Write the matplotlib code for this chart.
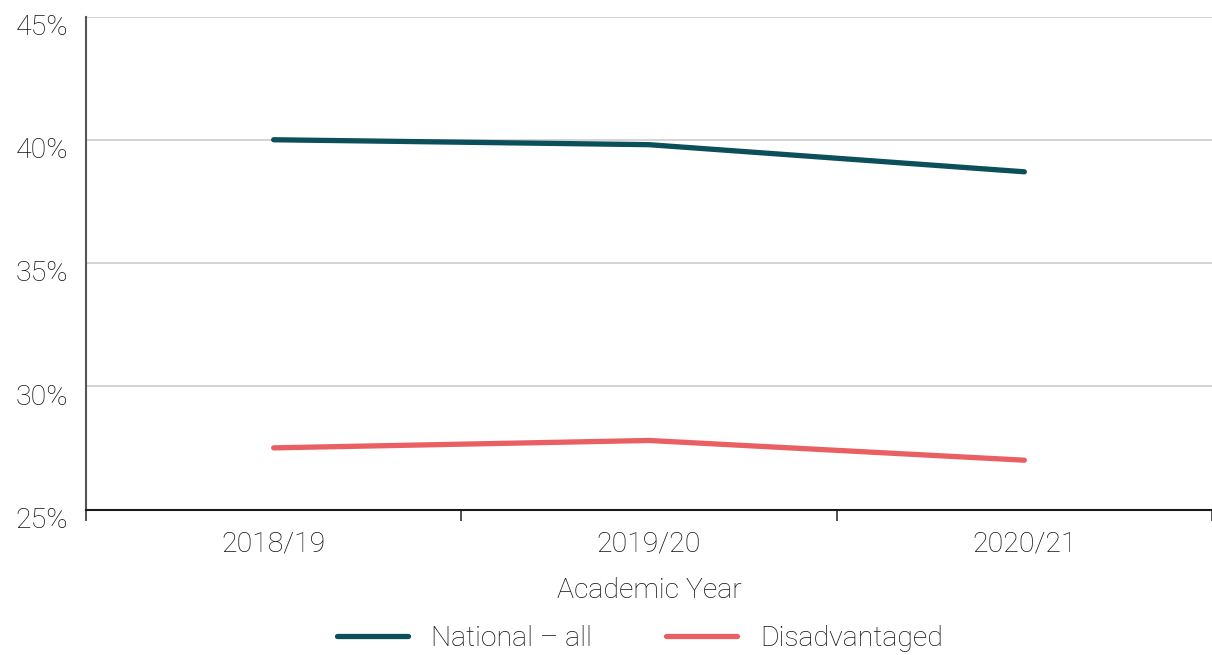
import matplotlib
matplotlib.use("Agg")
import matplotlib.pyplot as plt
import matplotlib.transforms as mtransforms
from matplotlib.ticker import FixedLocator, FuncFormatter

years = ["2018/19", "2019/20", "2020/21"]
national_all = [40.0, 39.8, 38.7]
disadvantaged = [27.5, 27.8, 27.0]
y_ticks = [25, 30, 35, 40, 45]

TEAL = "#0b4f5b"
CORAL = "#ea5f62"
INK = "#111111"

plt.rcParams["font.family"] = ["Roboto", "DejaVu Sans"]
plt.rcParams["font.weight"] = "light"
plt.rcParams["axes.labelweight"] = "light"
FS = 20.5

fig = plt.figure(figsize=(12.12, 6.55), dpi=100)
ax = fig.add_axes([86 / 1212, 1 - 509.5 / 655, 1 - 86 / 1212, (509.5 - 16.5) / 655])

x = list(range(len(years)))
ax.plot(x, national_all, color=TEAL, lw=3.8, solid_capstyle="round", label="National – all", zorder=3)
ax.plot(x, disadvantaged, color=CORAL, lw=3.8, solid_capstyle="round", label="Disadvantaged", zorder=3)

ax.set_xlim(-0.5, len(years) - 0.5)
ax.set_ylim(25, 45)

# y axis: gridlines only, labels hang just below each line
ax.set_yticks(y_ticks)
ax.yaxis.set_major_formatter(FuncFormatter(lambda v, _: f"{v:.0f}%"))
ax.tick_params(axis="y", length=0, pad=13, labelsize=FS, labelcolor=INK)
shift = mtransforms.ScaledTranslation(0, -8 / 100, fig.dpi_scale_trans)
for lab in ax.get_yticklabels():
    lab.set_transform(lab.get_transform() + shift)
ax.grid(axis="y", color="#cccccc", lw=1.2, zorder=0)

# x axis: category labels centred, ticks between categories
ax.set_xticks(x)
ax.set_xticklabels(years)
ax.xaxis.set_minor_locator(FixedLocator([-0.5, 0.5, 1.5, 2.5]))
ax.tick_params(axis="x", which="major", length=0, pad=15, labelsize=FS, labelcolor=INK)
ax.tick_params(axis="x", which="minor", length=8, width=1.2, color="#333333", direction="out")
ax.set_xlabel("Academic Year", fontsize=FS, color=INK, labelpad=14)

for side in ("top", "right"):
    ax.spines[side].set_visible(False)
ax.spines["left"].set_color("#555555")
ax.spines["left"].set_linewidth(1.5)
ax.spines["bottom"].set_color("#1a1a1a")
ax.spines["bottom"].set_linewidth(1.5)

handles, labels = ax.get_legend_handles_labels()
leg = fig.legend(handles, labels, loc="center", bbox_to_anchor=(640 / 1212, 1 - 638 / 655),
                 ncol=2, frameon=False, fontsize=FS, handlelength=2.5, handletextpad=0.8,
                 columnspacing=2.6)
for t in leg.get_texts():
    t.set_color(INK)

fig.savefig("out.png", dpi=100)
